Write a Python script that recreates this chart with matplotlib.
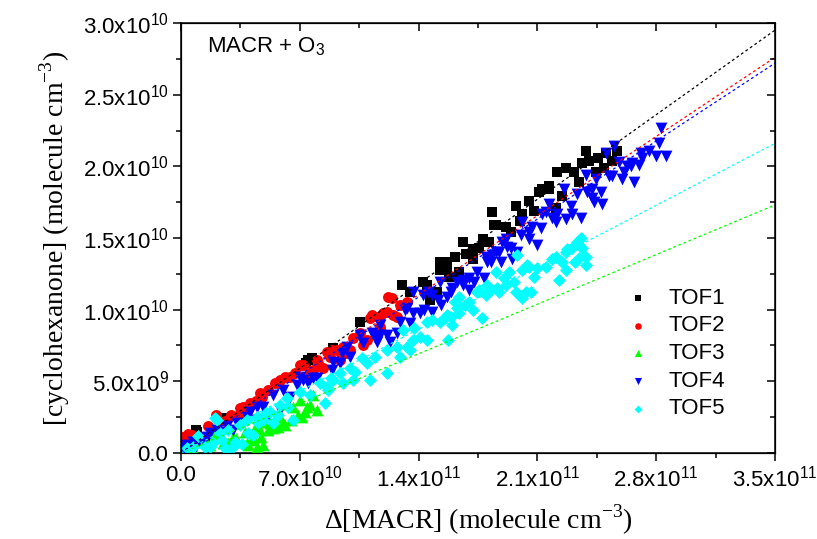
import numpy as np
import matplotlib
matplotlib.use('Agg')
import matplotlib.pyplot as plt
from matplotlib.ticker import MultipleLocator

# valores: x en 1e9 molecule cm-3, y en 1e9 molecule cm-3
tof1_x = [8.8, 9.4, 14.0, 26.5, 73.5, 74.7, 77.0, 89.4, 105.3, 130.0, 134.7, 142.4, 144.7, 150.6,
          146.5, 152.4, 156.5, 152.4, 158.2, 156.5, 161.2, 164.1, 165.9, 171.8, 175.9, 181.8, 183.5,
          184.7, 185.9, 191.8, 194.7, 197.6, 201.2, 211.2, 213.0, 217.0, 217.0, 221.2, 221.8, 224.7,
          227.0, 231.8, 234.7, 236.5, 238.8, 240.6, 244.7, 250.6, 257.0, 208.0, 205.0, 200.0, 178.0,
          172.0, 168.0, 246.0, 249.0, 254.0]
tof1_y = [1.6, 1.47, 1.05, 2.44, 6.28, 6.49, 6.63, 7.33, 9.14, 11.7, 11.2, 11.9, 11.7, 11.2,
          10.7, 13.3, 13.0, 12.8, 12.3, 13.3, 13.7, 12.6, 14.7, 13.5, 14.3, 14.7, 16.8,
          15.9, 15.9, 15.8, 15.4, 17.2, 16.7, 18.2, 18.4, 18.4, 18.6, 17.1, 19.6, 17.9,
          19.9, 19.6, 18.9, 20.2, 21.1, 20.4, 19.6, 20.9, 21.1, 16.9, 17.6, 16.2, 14.9,
          14.2, 13.9, 20.6, 19.9, 20.4]

tof2_x = [1.2, 2.4, 6.5, 11.8, 20.6, 21.8, 29.4, 34.7, 34.7, 36.5, 40.6, 46.5, 51.2, 55.3, 58.2,
          61.2, 64.1, 67.1, 70.0, 71.8, 75.9, 77.6, 80.0, 80.6, 83.5, 85.9, 88.8, 91.8, 87.6, 93.5,
          95.3, 97.6, 99.4, 101.2, 105.3, 107.1, 109.4, 111.2, 112.4, 115.9, 117.1, 118.8, 121.2,
          121.8, 124.1, 124.7, 127.1, 128.8, 132.9, 4.0, 16.0, 26.0, 44.0, 48.0]
tof2_y = [1.12, 0.91, 1.26, 0.91, 2.65, 2.30, 2.65, 2.65, 3.14, 3.21, 3.49, 4.19, 4.40, 4.88, 5.09,
          5.30, 5.30, 5.58, 6.14, 6.14, 5.58, 5.79, 6.49, 6.28, 5.93, 7.05, 7.19, 7.19, 6.70, 6.49,
          7.40, 6.98, 7.19, 8.03, 8.37, 7.54, 7.89, 9.42, 9.63, 9.49, 8.79, 9.77, 9.84,
          10.9, 10.8, 9.63, 9.49, 10.3, 10.5, 1.3, 1.9, 2.2, 3.6, 3.9]

tof3_x = [3.5, 7.1, 10.0, 11.2, 17.1, 24.7, 27.6, 30.6, 32.4, 37.6, 38.8, 39.4, 42.4, 42.4, 43.5,
          44.7, 46.5, 47.1, 48.2, 49.4, 51.2, 52.4, 54.1, 55.3, 57.1, 58.2, 60.0, 61.2, 64.7, 65.9,
          68.8, 70.0, 71.2, 72.9, 74.1, 75.9, 77.6, 80.0, 5.0, 14.0, 20.0]
tof3_y = [0.56, 0.35, 1.05, 0.91, 0.56, 0.70, 0.70, 1.12, 1.05, 1.47, 0.70, 0.56, 1.05, 0.91, 1.74,
          0.42, 1.60, 1.12, 0.56, 2.16, 1.60, 2.09, 1.74, 2.44, 1.81, 2.51, 2.09, 1.95, 2.30, 3.21,
          2.65, 3.70, 2.51, 2.86, 3.21, 3.35, 4.05, 3.00, 0.2, 0.9, 1.3]

tof4_x = [1.2, 3.5, 7.1, 12.9, 17.1, 21.2, 24.7, 30.6, 32.9, 38.8, 40.6, 44.7, 44.7, 48.2, 50.6,
          54.1, 58.2, 60.0, 64.1, 68.2, 70.0, 71.8, 74.7, 77.6, 80.0, 88.8, 89.4, 93.5, 94.7, 97.6,
          99.4, 105.3, 107.1, 112.4, 114.1, 115.3, 117.1, 117.1, 121.2, 122.9, 127.1, 128.8, 131.8,
          132.9, 134.7, 136.5, 136.5, 140.6, 142.4, 143.5, 145.3, 148.2, 148.2, 151.2, 152.4, 153.5,
          156.5, 159.4, 160.0, 162.4, 165.9, 165.9, 170.0, 170.0, 172.9, 174.7, 178.8, 180.0, 180.6,
          182.9, 183.5, 185.9, 187.6, 188.8, 189.4, 191.8, 192.4, 194.7, 195.3, 198.2, 200.6, 201.2,
          205.3, 205.3, 207.1, 210.0, 212.4, 213.0, 215.3, 217.1, 218.8, 221.2, 221.8, 225.9, 227.1,
          230.0, 230.6, 233.5, 235.9, 238.8, 239.4, 242.4, 242.4, 243.5, 244.7, 247.6, 248.2, 250.6,
          252.4, 254.1, 255.3, 258.2, 260.0, 261.2, 262.9, 265.3, 265.9, 267.1, 270.0, 271.2, 271.8,
          275.9, 280.0, 281.8, 282.9, 285.9, 2.0, 9.0, 15.0, 27.0]
tof4_y = [0.42, 0.56, 0.77, 0.91, 1.40, 1.60, 1.47, 1.60, 2.09, 2.51, 2.86, 3.21, 2.30, 3.21, 2.51,
          4.05, 3.00, 4.40, 3.91, 4.75, 5.30, 5.09, 4.88, 5.23, 5.23, 5.79, 6.35, 6.28, 6.98, 7.40,
          6.70, 8.23, 7.68, 8.37, 8.03, 7.75, 8.93, 8.23, 8.23, 7.75, 8.37, 9.14, 9.98,
          10.1, 9.07, 9.77, 11.2, 9.77, 11.0, 9.98, 11.2, 11.0, 9.84, 10.7, 11.9, 10.3,
          10.9, 11.2, 11.5, 11.9, 12.1, 11.7, 11.4, 12.2, 11.9, 12.6, 12.2, 13.7, 13.3,
          13.3, 13.8, 14.0, 14.0, 13.3, 14.7, 14.9, 14.4, 14.3, 13.5, 14.0, 15.2, 16.1,
          15.4, 14.9, 15.8, 14.5, 15.7, 16.7, 16.8, 17.4, 16.4, 16.1, 16.7, 18.4, 16.3,
          17.2, 16.7, 18.1, 16.4, 19.4, 18.2, 18.4, 17.8, 17.5, 19.1, 18.2, 17.4, 20.9,
          19.3, 19.3, 21.4, 20.3, 19.1, 19.6, 20.0, 20.0, 20.2, 18.9, 20.1, 20.9, 20.6,
          21.1, 20.7, 21.6, 22.7, 20.7, 0.2, 0.5, 1.1, 1.9]

tof5_x = [3.5, 7.1, 14.1, 17.1, 18.8, 20.0, 21.2, 22.9, 25.9, 27.1, 27.6, 30.6, 31.8, 34.7, 38.8,
          39.4, 42.4, 44.7, 45.3, 48.2, 50.0, 52.4, 54.1, 57.1, 58.2, 62.4, 62.9, 65.9, 70.0, 75.9,
          81.8, 84.7, 85.9, 86.5, 88.2, 89.4, 93.5, 95.3, 99.4, 101.2, 102.4, 106.5, 109.4, 111.2,
          114.1, 121.2, 121.2, 127.1, 128.8, 130.6, 132.9, 134.7, 136.5, 137.6, 140.6, 144.7, 144.7,
          148.2, 152.4, 155.3, 156.5, 157.1, 159.4, 160.0, 161.2, 162.4, 164.1, 164.1, 167.1, 170.0,
          171.8, 174.7, 175.9, 177.1, 180.0, 180.6, 182.9, 185.9, 186.5, 187.6, 190.6, 191.8, 193.5,
          196.5, 197.6, 198.2, 201.2, 201.2, 203.5, 204.1, 205.3, 206.5, 208.2, 210.0, 215.3, 218.8,
          221.2, 222.9, 224.7, 227.1, 227.1, 227.6, 230.6, 232.4, 233.5, 234.7, 235.9, 236.5, 238.8,
          238.8, 10.0, 24.0, 36.0]
tof5_y = [0.35, 0.42, 0.42, 0.42, 0.70, 2.44, 2.30, 1.40, 0.35, 0.21, 1.60, 0.42, 0.77, 1.95, 2.30,
          1.40, 1.26, 2.51, 2.09, 2.30, 2.79, 2.86, 2.09, 2.65, 3.35, 3.84, 3.21, 2.30, 4.26, 4.05,
          4.88, 3.49, 4.61, 4.40, 5.23, 5.09, 5.58, 4.88, 5.93, 5.09, 5.65, 6.63, 6.28, 5.09,
          6.70, 7.19, 5.58, 7.40, 6.70, 8.58, 7.40, 7.19, 7.89, 8.72, 8.09, 9.14, 7.89,
          9.28, 9.14, 9.42, 9.63, 7.89, 9.49, 8.93, 10.5, 10.1, 10.9, 9.77, 10.3, 10.5,
          10.0, 11.2, 11.4, 9.42, 11.0, 11.7, 11.4, 12.6, 11.5, 11.2, 12.2, 11.7, 12.6,
          11.9, 11.2, 13.8, 12.8, 10.8, 11.2, 13.1, 13.0, 11.2, 12.3, 12.9, 13.0, 13.5,
          13.7, 12.1, 13.3, 14.0, 12.8, 14.2, 14.3, 13.3, 14.7, 13.6, 15.0, 14.3, 13.1,
          13.7, 1.2, 0.9, 0.6]

# y de cada recta de ajuste al final del eje x (3.5e11), en 1e9
fit_end_y = {'TOF1': 29.5, 'TOF2': 27.6, 'TOF3': 17.3, 'TOF4': 27.2, 'TOF5': 21.6}

series = [
    ('TOF1', tof1_x, tof1_y, 's', '#000000', 48),
    ('TOF2', tof2_x, tof2_y, 'o', '#ff0000', 62),
    ('TOF3', tof3_x, tof3_y, '^', '#00ff00', 72),
    ('TOF4', tof4_x, tof4_y, 'v', '#0000ff', 72),
    ('TOF5', tof5_x, tof5_y, 'D', '#00ffff', 44),
]

x_ticks = [0, 7e10, 1.4e11, 2.1e11, 2.8e11, 3.5e11]
x_labels = ['0.0', '7.0x10$^{\\mathregular{10}}$', '1.4x10$^{\\mathregular{11}}$',
            '2.1x10$^{\\mathregular{11}}$', '2.8x10$^{\\mathregular{11}}$', '3.5x10$^{\\mathregular{11}}$']
y_ticks = [0, 5e9, 1e10, 1.5e10, 2e10, 2.5e10, 3e10]
y_labels = ['0.0', '5.0x10$^{\\mathregular{9}}$', '1.0x10$^{\\mathregular{10}}$', '1.5x10$^{\\mathregular{10}}$',
            '2.0x10$^{\\mathregular{10}}$', '2.5x10$^{\\mathregular{10}}$', '3.0x10$^{\\mathregular{10}}$']

plt.rcParams['font.family'] = ['Liberation Sans', 'DejaVu Sans']

fig = plt.figure(figsize=(8.17, 5.39), dpi=100)
ax = fig.add_axes([0.2215, 0.1596, 0.7270, 0.7977])

xmax = 3.5e11
for nombre, xs, ys, mk, col, s in series:
    xs = np.array(xs) * 1e9
    ys = np.array(ys) * 1e9
    ax.scatter(xs, ys, marker=mk, s=s, color=col, linewidths=0, label=nombre, zorder=3)

for nombre, xs, ys, mk, col, s in series:
    ax.plot([0, xmax], [0, fit_end_y[nombre] * 1e9], color=col, linestyle=(0, (2.2, 2.2)),
            linewidth=0.9, zorder=4)

ax.set_xlim(0, xmax)
ax.set_ylim(0, 3e10)
ax.set_xticks(x_ticks)
ax.set_xticklabels(x_labels, fontsize=16)
ax.set_yticks(y_ticks)
ax.set_yticklabels(y_labels, fontsize=16)
ax.xaxis.set_minor_locator(MultipleLocator(3.5e10))
ax.yaxis.set_minor_locator(MultipleLocator(2.5e9))
ax.tick_params(which='major', direction='out', length=6, width=1.1, pad=3)
ax.tick_params(which='minor', direction='out', length=3.5, width=1.1)
for sp in ax.spines.values():
    sp.set_linewidth(1.1)

# ticks hacia adentro arriba y a la derecha
axt = ax.twiny()
axt.set_xlim(ax.get_xlim())
axt.set_xticks(x_ticks)
axt.xaxis.set_minor_locator(MultipleLocator(3.5e10))
axt.tick_params(which='both', direction='in', labeltop=False, width=1.1)
axt.tick_params(which='major', length=6)
axt.tick_params(which='minor', length=3.5)
axr = ax.twinx()
axr.set_ylim(ax.get_ylim())
axr.set_yticks(y_ticks)
axr.yaxis.set_minor_locator(MultipleLocator(2.5e9))
axr.tick_params(which='both', direction='in', labelright=False, width=1.1)
axr.tick_params(which='major', length=6)
axr.tick_params(which='minor', length=3.5)

ax.set_xlabel('\u0394[MACR] (molecule cm$^{\\mathregular{-3}}$)', family='Liberation Serif',
              fontsize=20, labelpad=8)
ax.set_ylabel('[cyclohexanone] (molecule cm$^{\\mathregular{-3}}$)', family='Liberation Serif',
              fontsize=20, labelpad=8)

ax.text(0.044, 0.945, 'MACR + O$_{\\mathregular{3}}$', transform=ax.transAxes, fontsize=16,
        va='center', ha='left')

leg = ax.legend(loc='upper left', bbox_to_anchor=(0.74, 0.405), frameon=False, fontsize=16,
                markerscale=0.6, handlelength=0.8, handletextpad=0.95, labelspacing=0.3,
                borderaxespad=0)

fig.savefig('out.png', dpi=100)
